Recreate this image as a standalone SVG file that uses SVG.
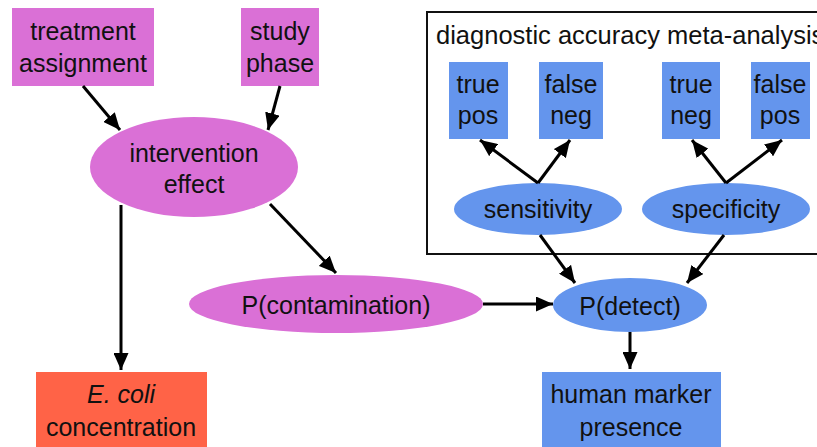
<svg xmlns="http://www.w3.org/2000/svg" width="817" height="447" viewBox="0 0 817 447">
<defs>
<style>
text{font-family:"Liberation Sans",Arial,sans-serif;font-size:25px;fill:#111;text-anchor:middle}
.pink{fill:#DA70D6}
.blue{fill:#6495ED}
.red{fill:#FF6347}
.edge{stroke:#000;stroke-width:3;fill:none;marker-end:url(#ah)}
</style>
<marker id="ah" markerUnits="userSpaceOnUse" markerWidth="18" markerHeight="15" refX="17" refY="7.5" orient="auto">
<path d="M0,0 L17,7.5 L0,15 Z" fill="#000"/>
</marker>
</defs>
<rect width="817" height="447" fill="#fff"/>
<g id="cluster">
<rect x="427" y="12" width="400" height="242" fill="none" stroke="#111" stroke-width="2"/>
<text x="436" y="44" style="text-anchor:start;font-size:25.5px">diagnostic accuracy meta-analysis</text>
</g>
<g id="treatment">
<rect class="pink" x="12" y="8" width="142" height="78"/>
<text x="83" y="40">treatment</text><text x="83" y="72">assignment</text>
</g>
<g id="study">
<rect class="pink" x="241" y="8" width="78" height="78"/>
<text x="280" y="40">study</text><text x="280" y="72">phase</text>
</g>
<g id="intervention">
<ellipse class="pink" cx="194" cy="167" rx="104" ry="50"/>
<text x="194" y="162">intervention</text><text x="194" y="193">effect</text>
</g>
<g id="contamination">
<ellipse class="pink" cx="336" cy="304" rx="147" ry="29"/>
<text x="336" y="314">P(contamination)</text>
</g>
<g id="ecoli">
<rect class="red" x="36" y="372" width="171" height="80"/>
<text x="121" y="403" font-style="italic">E. coli</text><text x="121" y="436">concentration</text>
</g>
<g id="truepos">
<rect class="blue" x="449" y="62" width="59" height="77"/>
<text x="478" y="93">true</text><text x="478" y="124">pos</text>
</g>
<g id="falseneg">
<rect class="blue" x="539" y="62" width="64" height="77"/>
<text x="571" y="93">false</text><text x="571" y="124">neg</text>
</g>
<g id="trueneg">
<rect class="blue" x="662" y="62" width="58" height="77"/>
<text x="691" y="93">true</text><text x="691" y="124">neg</text>
</g>
<g id="falsepos">
<rect class="blue" x="751" y="62" width="59" height="77"/>
<text x="780" y="93">false</text><text x="780" y="124">pos</text>
</g>
<g id="sensitivity">
<ellipse class="blue" cx="538" cy="209" rx="84" ry="26"/>
<text x="538" y="218">sensitivity</text>
</g>
<g id="specificity">
<ellipse class="blue" cx="726" cy="209" rx="84" ry="26"/>
<text x="726" y="218">specificity</text>
</g>
<g id="detect">
<ellipse class="blue" cx="630" cy="305" rx="77" ry="27"/>
<text x="630" y="315">P(detect)</text>
</g>
<g id="human">
<rect class="blue" x="542" y="372" width="179" height="80"/>
<text x="631" y="403">human marker</text><text x="631" y="436">presence</text>
</g>
<g id="connectors">
<line class="edge" x1="83" y1="86" x2="120" y2="130"/>
<line class="edge" x1="280" y1="86" x2="268" y2="130"/>
<line class="edge" x1="121" y1="205" x2="121" y2="370"/>
<line class="edge" x1="270" y1="204" x2="336" y2="273"/>
<line class="edge" x1="483" y1="304" x2="553" y2="304"/>
<line class="edge" x1="538" y1="183" x2="480" y2="140"/>
<line class="edge" x1="538" y1="183" x2="570" y2="140"/>
<line class="edge" x1="726" y1="183" x2="692" y2="140"/>
<line class="edge" x1="726" y1="183" x2="782" y2="140"/>
<line class="edge" x1="540" y1="235" x2="575" y2="283"/>
<line class="edge" x1="724" y1="235" x2="687" y2="283"/>
<line class="edge" x1="630" y1="332" x2="630" y2="369"/>
</g>
</svg>
